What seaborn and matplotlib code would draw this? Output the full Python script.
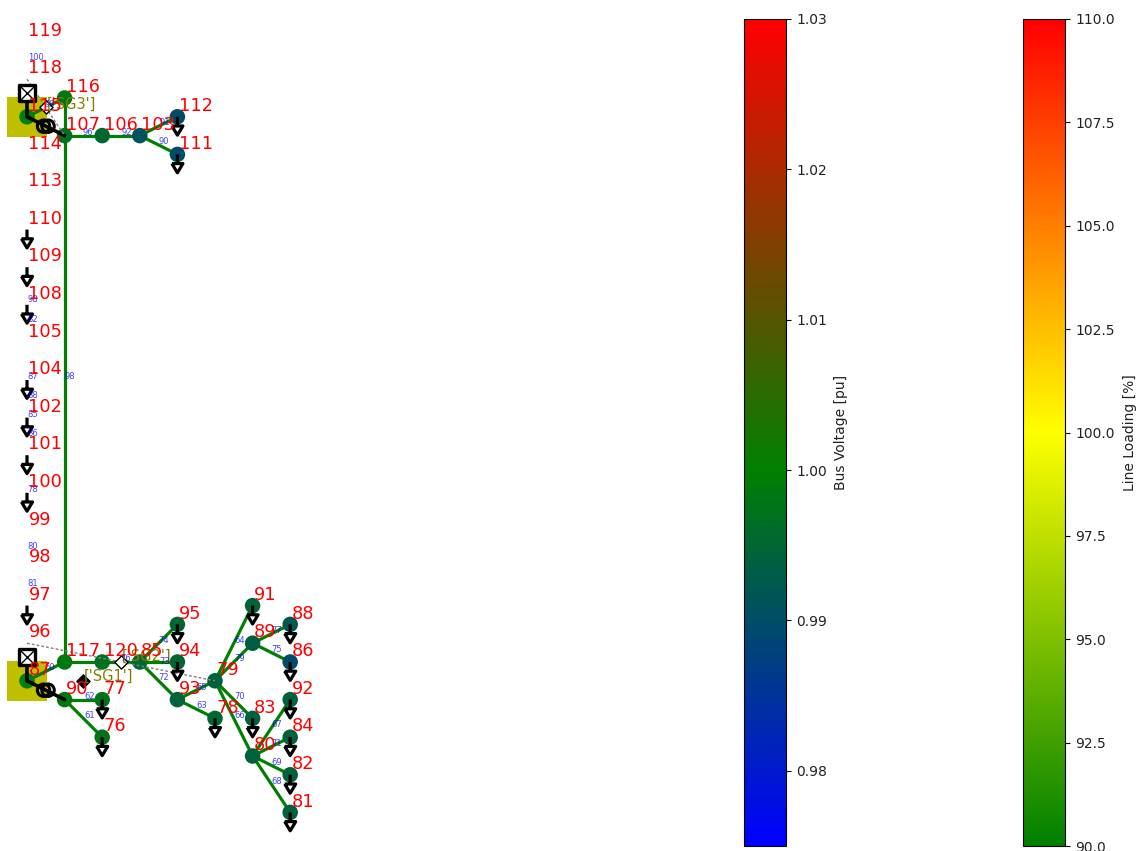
import matplotlib
matplotlib.use("Agg")
import matplotlib.pyplot as plt
from matplotlib.cm import ScalarMappable
from matplotlib.colors import LinearSegmentedColormap, Normalize
from matplotlib.path import Path
import pandas as pd
import seaborn as sns

# every bus: name, grid column, grid row
bus_names = [119, 118, 116, 115, 112, 107, 106, 103, 114, 111, 113, 110, 109, 108, 105, 104, 102,
             101, 100, 99, 98, 97, 91, 96, 95, 89, 88, 117, 120, 85, 94, 86, 87, 79, 90, 77, 93,
             92, 78, 83, 76, 84, 80, 82, 81]
bus_cols = [0, 0, 1, 0, 4, 1, 2, 3, 0, 4, 0, 0, 0, 0, 0, 0, 0,
            0, 0, 0, 0, 0, 6, 0, 4, 6, 7, 1, 2, 3, 4, 7, 0, 5, 1, 2, 4,
            7, 5, 6, 2, 7, 6, 7, 7]
bus_rows = [-3, -1, 0, 1, 1, 2, 2, 2, 3, 3, 5, 7, 9, 11, 13, 15, 17,
            19, 21, 23, 25, 27, 27, 29, 28, 29, 28, 30, 30, 30, 30, 30, 31, 31, 32, 32, 32,
            32, 33, 33, 34, 34, 35, 36, 38]

# buses that get a circle, with their voltage in pu
shown_buses = [116, 115, 112, 107, 106, 103, 111, 91, 95, 89, 88, 117, 120, 85, 94, 86, 87, 79,
               90, 77, 93, 92, 78, 83, 76, 84, 80, 82, 81]
shown_voltage = [0.9985, 1.0, 0.99, 0.997, 0.995, 0.991, 0.99, 0.9945, 0.995, 0.9935, 0.992, 0.9985,
                 0.997, 0.9955, 0.995, 0.99, 1.0, 0.994, 0.9985, 0.9975, 0.9945, 0.994, 0.995, 0.994,
                 0.9975, 0.994, 0.994, 0.994, 0.994]

load_buses = [112, 111, 110, 109, 108, 104, 102, 101, 100, 97, 91, 95, 94, 88, 86, 77, 76, 92, 78,
              83, 84, 82, 81]

edge_from = [116, 107, 106, 103, 103, 107, 115, 87, 117, 120, 85, 85, 85, 93, 93, 79, 79, 79, 79,
             89, 89, 80, 80, 80, 80, 90, 90]
edge_to = [107, 106, 103, 112, 111, 117, 116, 117, 120, 85, 94, 95, 93, 79, 78, 89, 91, 83, 80,
           88, 86, 92, 84, 82, 81, 77, 76]
edge_loading = [90] * len(edge_from)

trafo_from = [115, 87]
trafo_to = [107, 90]
grid_buses = [115, 87]

# number, column, row of the small blue line labels
line_numbers = [100, 96, 92, 91, 90, 99, 98, 82, 87, 88, 85, 86, 78, 80, 81, 98, 60, 62, 61, 74,
                73, 72, 76, 65, 63, 64, 79, 70, 66, 77, 75, 67, 71, 69, 68]
line_cols = [0.24, 1.62, 2.66, 3.67, 3.64, 0.61, 0.16, 0.16, 0.16, 0.16, 0.16, 0.16, 0.16, 0.16,
             0.16, 1.14, 0.61, 1.68, 1.68, 3.64, 3.67, 3.64, 2.63, 4.65, 4.65, 5.66, 5.66, 5.66,
             5.66, 6.65, 6.65, 6.65, 6.65, 6.65, 6.65]
line_rows = [-2.18, 1.81, 1.81, 1.28, 2.34, 0.37, 10.74, 11.76, 14.84, 15.85, 16.81, 17.82, 20.85,
             23.83, 25.8, 14.84, 30.27, 31.81, 32.82, 28.83, 30.0, 30.8, 29.79, 31.33, 32.29,
             28.83, 29.84, 31.86, 32.82, 28.3, 29.31, 33.3, 34.31, 35.32, 36.33]

sgen_names = ["['SG3']", "['SG1']", "['SG2']"]
sgen_cols = [0.5, 1.5, 2.5]
sgen_rows = [0.5, 31, 30]
sgen_faces = ["white", "black", "white"]

bus_pos = {n: (c, r) for n, c, r in zip(bus_names, bus_cols, bus_rows)}

sns.set_style("white")
fig = plt.figure(figsize=(11.43, 8.51), dpi=100)

# left part of the figure, 700 px wide; one column is 37.6 px, one row 18.8 px
ax = fig.add_axes([0, 0, 700 / 1143, 1])
ax.set_xlim(-27 / 37.6, (700 - 27) / 37.6)
ax.set_ylim((851 - 98) / 18.8, -98 / 18.8)
ax.axis("off")

bus_cmap = LinearSegmentedColormap.from_list(
    "bus", [(0, "blue"), (0.025 / 0.055, "green"), (1, "red")])
line_cmap = LinearSegmentedColormap.from_list(
    "line", [(0, "green"), (0.5, "yellow"), (1, "red")])
bus_norm = Normalize(0.975, 1.03)
line_norm = Normalize(90, 110)

# external grid squares sit under everything
grid_df = pd.DataFrame([bus_pos[b] for b in grid_buses], columns=["x", "y"])
sns.scatterplot(data=grid_df, x="x", y="y", marker="s", s=830, color="#bfbf00", linewidth=0,
                legend=False, ax=ax, zorder=1)

# dotted links
ax.plot([bus_pos[118][0], bus_pos[107][0]], [bus_pos[118][1], bus_pos[107][1]],
        color="gray", lw=1, ls=(0, (2, 1.5)), zorder=5)
ax.plot([bus_pos[96][0], bus_pos[79][0]], [bus_pos[96][1], bus_pos[79][1]],
        color="gray", lw=1, ls=(0, (2, 1.5)), zorder=5)

rows = []
for i, (a, b) in enumerate(zip(edge_from, edge_to)):
    for n in (a, b):
        rows.append({"edge": i, "x": bus_pos[n][0], "y": bus_pos[n][1], "loading": edge_loading[i]})
edge_df = pd.DataFrame(rows)
sns.lineplot(data=edge_df, x="x", y="y", units="edge", estimator=None, sort=False, hue="loading",
             hue_norm=line_norm, palette=line_cmap, lw=2.3, legend=False, ax=ax, zorder=2)

bus_df = pd.DataFrame({"x": [bus_pos[b][0] for b in shown_buses],
                       "y": [bus_pos[b][1] for b in shown_buses],
                       "v": shown_voltage})
sns.scatterplot(data=bus_df, x="x", y="y", hue="v", hue_norm=bus_norm, palette=bus_cmap, s=125,
                linewidth=0, legend=False, ax=ax, zorder=3)

# arrow hanging below a load bus, scaled by its longest extent
load_path = Path([(0, 0), (0, -0.5), (-0.3, -0.5), (0.3, -0.5), (0, -1), (-0.3, -0.5)],
                 [Path.MOVETO, Path.LINETO, Path.MOVETO, Path.LINETO, Path.LINETO, Path.LINETO])
load_df = pd.DataFrame([bus_pos[b] for b in load_buses], columns=["x", "y"])
ax.scatter(load_df["x"], load_df["y"], marker=load_path, s=700, facecolors="none",
           edgecolors="black", linewidths=2.3, zorder=6)

# transformers and grid connections
for g, (a, b) in zip(grid_buses, zip(trafo_from, trafo_to)):
    xa, ya = bus_pos[a]
    xb, yb = bus_pos[b]
    ax.plot([xa, xa, xb], [ya - 1.25, ya, yb], color="black", lw=2.6, zorder=4)
    xm, ym = (xa + xb) / 2, (ya + yb) / 2
    ax.scatter([xm - 0.06, xm + 0.06], [ym, ym], s=80, facecolors="none", edgecolors="black",
               linewidths=2.2, zorder=7)
    ax.scatter([xa], [ya - 1.25], marker="s", s=130, facecolors="white", edgecolors="black",
               linewidths=2.4, zorder=7)
    ax.scatter([xa], [ya - 1.25], marker="x", s=110, color="black", linewidths=1, zorder=8)

for name, c, r, face in zip(sgen_names, sgen_cols, sgen_rows, sgen_faces):
    ax.scatter([c], [r], marker="D", s=45, facecolors=face, edgecolors="black", linewidths=1,
               zorder=7)

ax.text(0.52, 0.35, sgen_names[0], color="olive", fontsize=10.5, va="center", zorder=9)
ax.text(1.52, 30.75, sgen_names[1], color="olive", fontsize=10.5, va="center", zorder=9)
ax.text(2.52, 29.7, sgen_names[2], color="olive", fontsize=10.5, va="center", zorder=9)

for n, c, r in zip(line_numbers, line_cols, line_rows):
    ax.text(c, r, str(n), color="blue", fontsize=6, ha="center", va="center", alpha=0.75, zorder=9)

for n, c, r in zip(bus_names, bus_cols, bus_rows):
    ax.annotate(str(n), (c, r), xytext=(1, 4.2), textcoords="offset points", color="red",
                fontsize=12.8, ha="left", va="baseline", zorder=10)

# colorbars
cax1 = fig.add_axes([744 / 1143, 1 - 846 / 851, 42 / 1143, 827 / 851])
cb1 = fig.colorbar(ScalarMappable(norm=bus_norm, cmap=bus_cmap), cax=cax1)
cb1.set_ticks([0.98, 0.99, 1.0, 1.01, 1.02, 1.03])
cb1.set_label("Bus Voltage [pu]", fontsize=10, labelpad=5)
cax2 = fig.add_axes([1023 / 1143, 1 - 846 / 851, 42 / 1143, 827 / 851])
cb2 = fig.colorbar(ScalarMappable(norm=line_norm, cmap=line_cmap), cax=cax2)
cb2.set_ticks([90, 92.5, 95, 97.5, 100, 102.5, 105, 107.5, 110])
cb2.set_label("Line Loading [%]", fontsize=10, labelpad=5.5)
for cb in (cb1, cb2):
    cb.ax.tick_params(right=True, length=3.5, width=0.8, color="black", labelsize=10,
                      labelcolor="#222222", pad=4)
    cb.ax.yaxis.label.set_color("#222222")
    cb.outline.set_edgecolor("black")

plt.savefig("out.png", dpi=100)
